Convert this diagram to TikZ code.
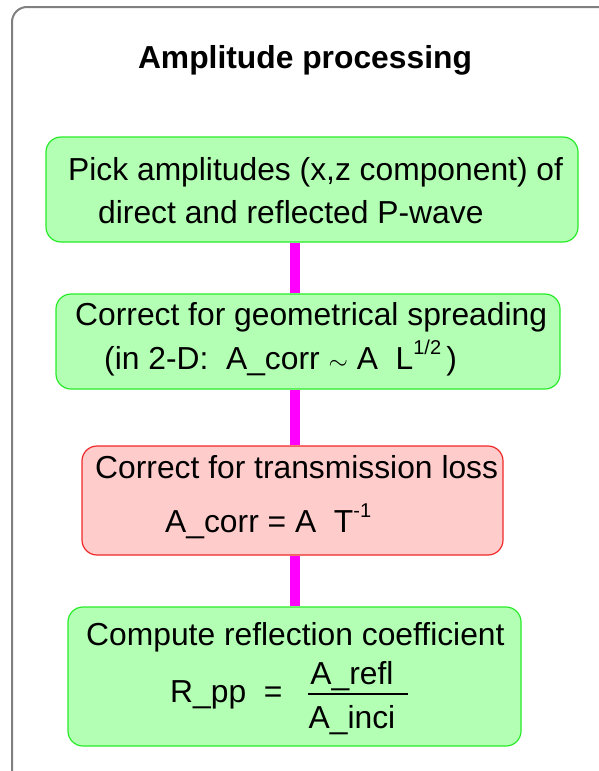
\documentclass[tikz,border=0pt]{standalone}
\usepackage{fontspec}
\setmainfont{Liberation Sans}
\definecolor{boxgreen}{RGB}{179,255,179}
\definecolor{edgegreen}{RGB}{40,235,40}
\definecolor{boxred}{RGB}{255,204,204}
\definecolor{edgered}{RGB}{240,40,40}
\definecolor{framegray}{RGB}{128,128,128}
\definecolor{connmag}{RGB}{255,0,255}
\newcommand{\bodyfont}{\fontsize{31.8}{38}\selectfont}
\newcommand{\supfont}{\fontsize{20}{24}\selectfont}
\newcommand{\upscript}[1]{\raisebox{15pt}{\supfont #1}}
\begin{document}
\begin{tikzpicture}[x=1pt,y=-1pt,
  greenbox/.style={draw=edgegreen, fill=boxgreen, line width=1.2pt, rounded corners=15pt, inner sep=0pt},
  redbox/.style={draw=edgered, fill=boxred, line width=1.2pt, rounded corners=15pt, inner sep=0pt},
  conn/.style={draw=connmag, line width=10pt},
  txt/.style={inner sep=0pt, font=\bodyfont},
  ttl/.style={inner sep=0pt, font=\bodyfont\bfseries}]
\useasboundingbox (0,0) rectangle (599,771);
\draw[framegray, line width=2pt, rounded corners=15pt] (12,820) -- (12,7) -- (660,7);
\node[ttl, anchor=base] (title) at (305,68) {Amplitude processing};
\coordinate (cx) at (295,0);
\node[greenbox, minimum width=532, minimum height=105] (b1) at (312,189.5) {};
\node[greenbox, minimum width=504, minimum height=95] (b2) at (308,341.5) {};
\node[redbox, minimum width=421, minimum height=109] (b3) at (292.5,500.5) {};
\node[greenbox, minimum width=453, minimum height=139] (b4) at (294.5,676.5) {};
\draw[conn] (b1.south -| cx) -- (b2.north -| cx);
\draw[conn] (b2.south -| cx) -- (b3.north -| cx);
\draw[conn] (b3.south -| cx) -- (b4.north -| cx);
\node[txt, anchor=base west] (t1a) at (68,180) {Pick amplitudes (x,z component) of};
\node[txt, anchor=base west] (t1b) at (98,223) {direct and reflected P-wave};
\node[txt, anchor=base west] (t2a) at (75,325) {Correct for geometrical spreading};
\node[txt, anchor=base west] (t2b) at (104,369) {(in 2-D:\ \ A\_corr $\sim$ A\ \ L\upscript{1/2}\,)};
\node[txt, anchor=base west] (t3a) at (95,478) {Correct for transmission loss};
\node[txt, anchor=base west] (t3b) at (165,532) {A\_corr = A\ \ T\upscript{-1}};
\node[txt, anchor=base west] (t4a) at (86,645) {Compute reflection coefficient};
\node[txt, anchor=base west] (t4b) at (170,702) {R\_pp\ \ =};
\node[txt, anchor=base] (t4c) at (352,684) {A\_refl};
\node[txt, anchor=base] (t4d) at (352,728) {A\_inci};
\coordinate (fl) at (308,694);
\coordinate (fr) at (408,694);
\draw[line width=1.5pt] (fl) -- (fr);
\end{tikzpicture}
\end{document}
